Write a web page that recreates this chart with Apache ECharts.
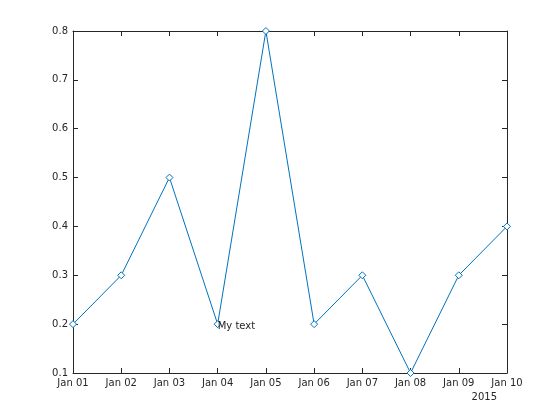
<!DOCTYPE html>
<html><head><meta charset="utf-8">
<script src="https://cdn.jsdelivr.net/npm/echarts@6/dist/echarts.min.js"></script>
<style>html,body{margin:0;padding:0;background:#fff}#c{width:560px;height:420px}</style>
</head><body><div id="c"></div>
<script>
const categories = ['Jan 01','Jan 02','Jan 03','Jan 04','Jan 05','Jan 06','Jan 07','Jan 08','Jan 09','Jan 10'];
const values = [0.2, 0.3, 0.5, 0.2, 0.8, 0.2, 0.3, 0.1, 0.3, 0.4];
const annotation = {cat: 'Jan 04', value: 0.2, text: 'My text'};
const yearLabel = '2015';

const axisColor = '#262626';
const font = 'DejaVu Sans, sans-serif';
const chart = echarts.init(document.getElementById('c'), null, {renderer: 'canvas'});
const commonAxisLine = {show: true, lineStyle: {color: axisColor, width: 1}};
chart.setOption({
  animation: false,
  backgroundColor: '#fff',
  grid: {left: 73, right: 53, top: 31, bottom: 47, containLabel: false},
  xAxis: [{
    type: 'category', data: categories, boundaryGap: false, position: 'bottom',
    axisLine: commonAxisLine,
    axisTick: {show: true, inside: true, length: 5, alignWithLabel: true, lineStyle: {color: axisColor}},
    axisLabel: {color: axisColor, fontFamily: font, fontSize: 10, margin: 5},
    splitLine: {show: false}
  }, {
    type: 'category', data: categories, boundaryGap: false, position: 'top',
    axisLine: commonAxisLine,
    axisTick: {show: true, inside: true, length: 5, lineStyle: {color: axisColor}},
    axisLabel: {show: false}, splitLine: {show: false}
  }],
  yAxis: [{
    type: 'value', min: 0.1, max: 0.8, interval: 0.1, position: 'left',
    axisLine: commonAxisLine,
    axisTick: {show: true, inside: true, length: 5, lineStyle: {color: axisColor}},
    axisLabel: {color: axisColor, fontFamily: font, fontSize: 10, margin: 5,
      formatter: v => (Math.round(v*10)/10).toFixed(1)},
    splitLine: {show: false}
  }, {
    type: 'value', min: 0.1, max: 0.8, interval: 0.1, position: 'right',
    axisLine: commonAxisLine,
    axisTick: {show: true, inside: true, length: 5, lineStyle: {color: axisColor}},
    axisLabel: {show: false}, splitLine: {show: false}
  }],
  series: [{
    type: 'line', data: values, xAxisIndex: 0, yAxisIndex: 0,
    symbol: 'diamond', symbolSize: 7, showAllSymbol: true,
    lineStyle: {color: '#0072BD', width: 1},
    itemStyle: {color: '#fff', borderColor: '#0072BD', borderWidth: 1},
    markPoint: {
      symbol: 'circle', symbolSize: 0,
      data: [{coord: [annotation.cat, annotation.value], value: annotation.text}],
      label: {show: true, position: 'right', distance: 0, offset: [0, 2], formatter: annotation.text,
        color: axisColor, fontFamily: font, fontSize: 10}
    }
  }],
  graphic: [{
    type: 'text', right: 63, top: 392,
    style: {text: yearLabel, fill: axisColor, font: '10px DejaVu Sans, sans-serif'}
  }]
});
</script></body></html>
